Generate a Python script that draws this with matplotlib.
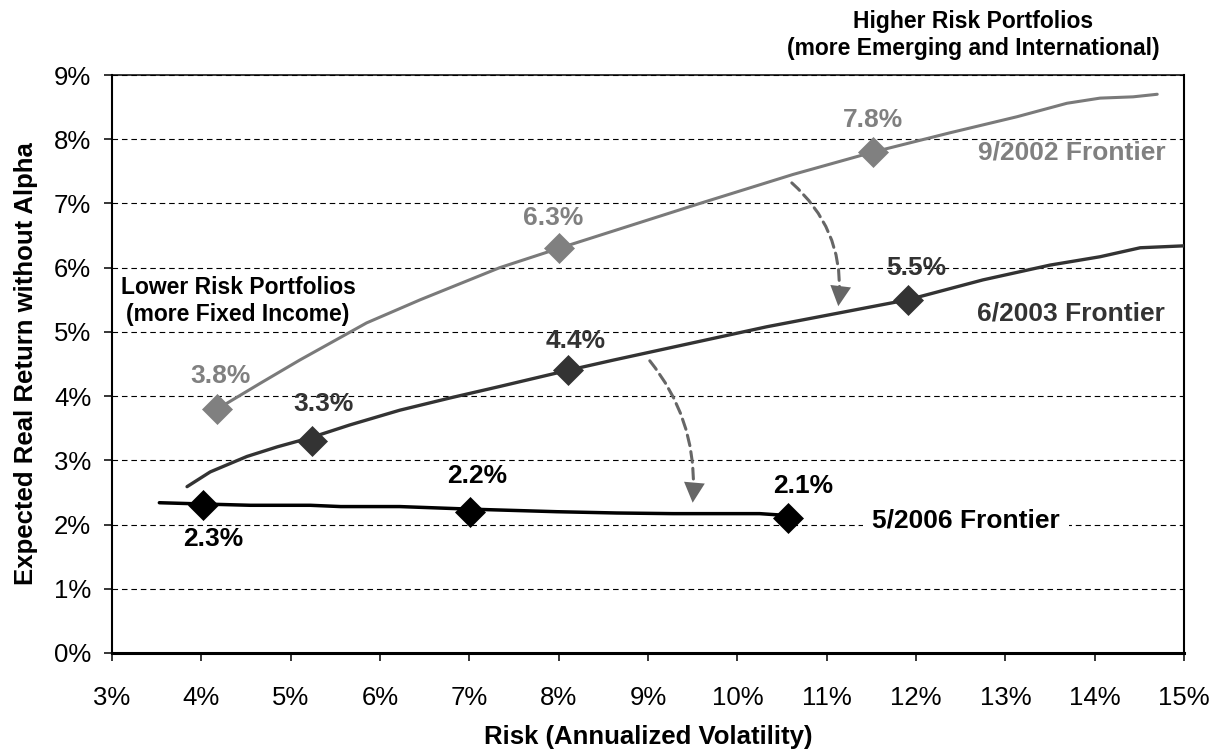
import matplotlib
matplotlib.use("Agg")
import matplotlib.pyplot as plt
from matplotlib.ticker import FuncFormatter, MultipleLocator

plt.rcParams['font.family'] = ['Liberation Sans', 'DejaVu Sans']

# Efficient frontier curves: risk (annualized volatility, %) vs expected real return (%)
risk_2002 = [4.18, 4.66, 5.10, 5.85, 6.45, 7.34, 8.00, 9.58, 10.62, 11.52,
             12.38, 13.13, 13.69, 14.06, 14.43, 14.70]
ret_2002 = [3.80, 4.20, 4.56, 5.14, 5.50, 6.00, 6.30, 7.00, 7.45, 7.80,
            8.10, 8.35, 8.56, 8.64, 8.66, 8.70]

risk_2003 = [3.84, 4.10, 4.51, 4.85, 5.24, 5.66, 6.22, 6.78, 7.34, 8.10,
             8.61, 10.33, 11.91, 12.75, 13.50, 14.06, 14.51, 15.00]
ret_2003 = [2.59, 2.82, 3.06, 3.21, 3.36, 3.55, 3.78, 3.97, 4.15, 4.40,
            4.56, 5.08, 5.50, 5.81, 6.04, 6.17, 6.31, 6.34]

risk_2006 = [3.53, 4.02, 4.55, 5.22, 5.56, 6.22, 7.01, 7.98, 8.65, 9.28,
             10.25, 10.57]
ret_2006 = [2.34, 2.32, 2.30, 2.30, 2.28, 2.28, 2.24, 2.20, 2.18, 2.17,
            2.17, 2.14]

# Highlighted portfolios on each frontier
pt_risk_2002 = [4.18, 8.00, 11.52]
pt_ret_2002 = [3.8, 6.3, 7.8]
pt_risk_2003 = [5.24, 8.10, 11.91]
pt_ret_2003 = [3.3, 4.4, 5.5]
pt_risk_2006 = [4.02, 7.01, 10.57]
pt_ret_2006 = [2.3, 2.2, 2.1]

# label offsets (points) for the highlighted portfolios
off_2002 = [(2, 24), (-4, 22), (0, 23)]
off_2003 = [(8, 27), (6, 21), (6, 23)]
off_2006 = [(7, -24), (5, 26), (11, 23)]

c2002 = '#7a7a7a'
c2003 = '#333333'
c2006 = '#000000'
arrow_c = '#666666'

fig = plt.figure(figsize=(12.12, 7.54), dpi=100)
ax = fig.add_axes([112 / 1212, 1 - 653 / 754, 1072 / 1212, 578 / 754])

ax.set_xlim(3, 15)
ax.set_ylim(0, 9)
ax.xaxis.set_major_locator(MultipleLocator(1))
ax.yaxis.set_major_locator(MultipleLocator(1))
pct = FuncFormatter(lambda v, p: f"{v:.0f}%")
ax.xaxis.set_major_formatter(pct)
ax.yaxis.set_major_formatter(pct)

ax.yaxis.grid(True, color='black', linestyle=(0, (5, 3.5)), linewidth=0.8)
ax.set_axisbelow(True)

ax.tick_params(axis='both', direction='out', length=6, width=1.1,
               labelsize=18.5, colors='black')
ax.tick_params(axis='x', pad=18)
ax.tick_params(axis='y', pad=9)

ax.spines['bottom'].set_linewidth(2.2)
ax.spines['left'].set_linewidth(1.5)
ax.spines['top'].set_linewidth(1.1)
ax.spines['right'].set_linewidth(1.5)

# frontier lines
ax.plot(risk_2002, ret_2002, color=c2002, lw=2.2, solid_capstyle='round', zorder=3)
ax.plot(risk_2003, ret_2003, color=c2003, lw=2.4, solid_capstyle='round', zorder=3)
ax.plot(risk_2006, ret_2006, color=c2006, lw=2.5, solid_capstyle='round', zorder=3)

# highlighted portfolios
for rx, ry, off, col in [(pt_risk_2002, pt_ret_2002, off_2002, '#808080'),
                         (pt_risk_2003, pt_ret_2003, off_2003, c2003),
                         (pt_risk_2006, pt_ret_2006, off_2006, c2006)]:
    ax.plot(rx, ry, linestyle='none', marker='D', markersize=15,
            markerfacecolor=col, markeredgecolor=col, markeredgewidth=0.5, zorder=4)
    for x, y, (dx, dy) in zip(rx, ry, off):
        ax.annotate(f"{y:.1f}%", (x, y), xytext=(dx, dy), textcoords='offset points',
                    ha='center', va='center', fontsize=19, fontweight='bold',
                    color=col, zorder=5)

# frontier names
ax.text(14.79, 7.79, '9/2002 Frontier', ha='right', va='center', fontsize=19,
        fontweight='bold', color='#808080')
ax.text(14.79, 5.28, '6/2003 Frontier', ha='right', va='center', fontsize=19,
        fontweight='bold', color=c2003)
ax.text(11.51, 2.06, '5/2006 Frontier', ha='left', va='center', fontsize=19,
        fontweight='bold', color=c2006,
        bbox=dict(boxstyle='square,pad=0.35', facecolor='white', edgecolor='none'),
        zorder=5)

ax.text(4.41, 5.48, 'Lower Risk Portfolios\n(more Fixed Income)', ha='center',
        va='center', fontsize=16.5, fontweight='bold', color='black',
        linespacing=1.25, zorder=5)
fig.text(973 / 1212, 1 - 35 / 754, 'Higher Risk Portfolios\n(more Emerging and International)',
         ha='center', va='center', fontsize=16.5, fontweight='bold', color='black',
         linespacing=1.25)


def shift_arrow(start, end, rad):
    """Dashed curved shaft plus a solid triangular head."""
    conn = f'arc3,rad={rad}'
    ax.annotate('', xy=end, xytext=start,
                arrowprops=dict(arrowstyle='-', connectionstyle=conn,
                                color=arrow_c, lw=2.2, linestyle=(0, (3.5, 2)),
                                shrinkA=0, shrinkB=9), zorder=4)
    ax.annotate('', xy=end, xytext=start,
                arrowprops=dict(arrowstyle='-|>,head_length=1.45,head_width=0.75',
                                connectionstyle=conn, facecolor=arrow_c,
                                edgecolor='none', lw=0, shrinkA=0, shrinkB=0,
                                mutation_scale=10), zorder=4)


shift_arrow((10.61, 7.32), (11.13, 5.40), -0.26)
shift_arrow((9.02, 4.55), (9.50, 2.34), -0.2)

ax.set_xlabel('Risk (Annualized Volatility)', fontsize=18.5, fontweight='bold')
ax.set_ylabel('Expected Real Return without Alpha', fontsize=18.5, fontweight='bold')
ax.xaxis.set_label_coords(0.5, (653 - 725) / 578)
ax.yaxis.set_label_coords((38 - 112) / 1072, 0.5)

fig.savefig('out.png', dpi=100, facecolor='white')
